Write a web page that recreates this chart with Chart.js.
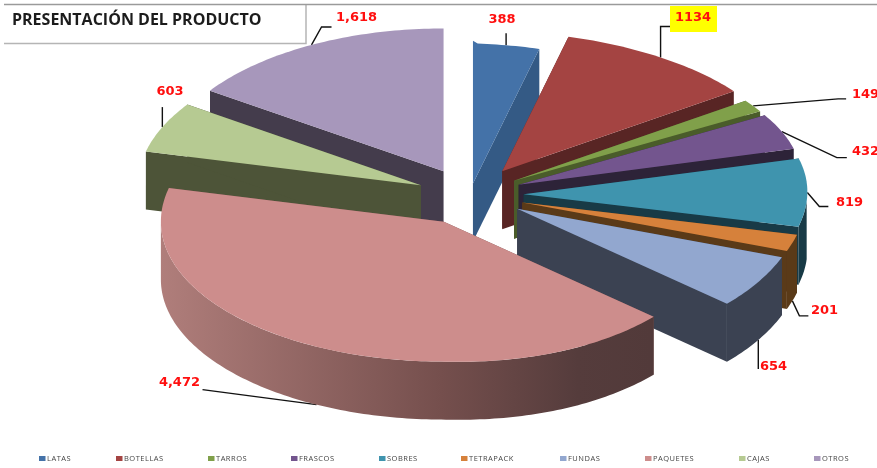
<!DOCTYPE html>
<html>
<head>
<meta charset="utf-8">
<title>Presentación del producto</title>
<script src="https://cdn.jsdelivr.net/npm/chart.js@4"></script>
<style>
  html, body { margin: 0; padding: 0; background: #fff; }
  canvas { display: block; filter: blur(0.4px); }
</style>
</head>
<body>
<canvas id="pie" width="877" height="468"></canvas>
<script>
const categories = ['LATAS', 'BOTELLAS', 'TARROS', 'FRASCOS', 'SOBRES', 'TETRAPACK', 'FUNDAS', 'PAQUETES', 'CAJAS', 'OTROS'];
const values = [388, 1134, 149, 432, 819, 201, 654, 4472, 603, 1618];
const valueLabels = ['388', '1134', '149', '432', '819', '201', '654', '4,472', '603', '1,618'];

const topColors = ['#4472a8', '#a44442', '#80a04a', '#73558e', '#3f94ae', '#d6813b', '#92a7cf', '#cd8d8c', '#b6ca92', '#a797bb'];
const sideColors = ['#345a85', '#582524', '#4a5c2a', '#2d2338', '#183a46', '#5a3a18', '#3b4252', '#754f4d', '#4d5438', '#443c4c'];
const explode = [0.09, 0.21, 0.19, 0.19, 0.19, 0.19, 0.19, 0.205, 0.19, 0.2];
// back to front, so nearer slices cover the ones behind them
const paintOrder = [0, 9, 8, 1, 2, 3, 4, 5, 6, 7];

// leader line bends, relative to the point on the slice edge
const leaders = [
  [[0, -12]],
  [[0, -31], [10, -31]],
  [[85, -7], [93, -7]],
  [[55, 26], [65, 26]],
  [[12, 14], [21, 14]],
  [[7, 15], [16, 15]],
  [[0, 29]],
  [[-114, -15]],
  [[0, -20]],
  [[10, -18], [20, -18]]
];
// label anchor x, y and alignment
const labelPos = [
  [502, 20, 'center'], [693, 18, 'center'], [852, 95, 'left'], [852, 152, 'left'], [836, 203, 'left'],
  [811, 311, 'left'], [760, 367, 'left'], [200, 383, 'right'], [170, 92, 'center'], [336, 18, 'left']
];
const legendX = [39, 116, 208, 291, 379, 461, 560, 645, 739, 814];

const CX = 470, CY = 196, RX = 283, RY = 140, DEPTH = 58;

function pointOnDisc(apex, th) {
  const u = Math.sin(th), v = Math.cos(th);
  let dx = RX * u, dy = -RY * v;
  if (u > 0) { // the right side of the reference leans a little
    dx *= 1 + 0.07 * u * v;
    dy += 7 * u;
  } else if (v > 0) {
    dy *= 1.02;
  }
  return { x: apex.x + dx, y: apex.y + dy };
}

function arcPoints(apex, a, b) {
  const pts = [];
  const n = Math.max(2, Math.ceil((b - a) / (Math.PI / 180)));
  for (let i = 0; i <= n; i++) pts.push(pointOnDisc(apex, a + (b - a) * i / n));
  return pts;
}

function fillPoly(ctx, pts, color) {
  ctx.beginPath();
  pts.forEach((p, i) => i ? ctx.lineTo(p.x, p.y) : ctx.moveTo(p.x, p.y));
  ctx.closePath();
  ctx.fillStyle = color;
  ctx.fill();
}

function down(p) { return { x: p.x, y: p.y + DEPTH }; }

function sliceApex(arc, i) {
  const mid = (arc.startAngle + arc.endAngle) / 2 + Math.PI / 2;
  return {
    x: CX + explode[i] * RX * Math.sin(mid),
    y: CY - explode[i] * RY * Math.cos(mid)
  };
}

function drawSlice(ctx, arc, i) {
  const a = arc.startAngle + Math.PI / 2, b = arc.endAngle + Math.PI / 2;
  const apex = sliceApex(arc, i);
  const rim = arcPoints(apex, a, b);
  const first = rim[0], last = rim[rim.length - 1];

  // cut faces
  fillPoly(ctx, [apex, first, down(first), down(apex)], sideColors[i]);
  fillPoly(ctx, [apex, last, down(last), down(apex)], sideColors[i]);

  // outer wall, only the part turned towards the viewer
  const wa = Math.max(a, Math.PI / 2), wb = Math.min(b, Math.PI * 1.5);
  if (wb > wa) {
    const wall = arcPoints(apex, wa, wb);
    let fill = sideColors[i];
    if (categories[i] === 'PAQUETES') {
      fill = ctx.createLinearGradient(160, 0, 652, 0);
      fill.addColorStop(0, '#b07e7b');
      fill.addColorStop(0.57, '#754f4d');
      fill.addColorStop(0.85, '#553c3c');
      fill.addColorStop(1, '#523a3a');
    }
    fillPoly(ctx, wall.concat(wall.map(down).reverse()), fill);
  }

  // top face
  fillPoly(ctx, [apex].concat(rim), topColors[i]);
}

function drawLeader(ctx, arc, i) {
  const mid = (arc.startAngle + arc.endAngle) / 2 + Math.PI / 2;
  const edge = pointOnDisc(sliceApex(arc, i), mid);
  if (mid > Math.PI / 2 && mid < Math.PI * 1.5) edge.y += DEPTH;
  ctx.beginPath();
  ctx.moveTo(edge.x, edge.y);
  leaders[i].forEach(d => ctx.lineTo(edge.x + d[0], edge.y + d[1]));
  ctx.strokeStyle = '#111';
  ctx.lineWidth = 1.4;
  ctx.stroke();
}

function drawLabel(ctx, i) {
  const [x, y, align] = labelPos[i];
  ctx.font = 'bold 13px "DejaVu Sans"';
  ctx.textAlign = align;
  ctx.textBaseline = 'middle';
  if (valueLabels[i] === '1134') {
    ctx.fillStyle = '#ffff00';
    ctx.fillRect(x - 23, y - 12, 47, 26);
  }
  ctx.fillStyle = '#ff0f0f';
  ctx.fillText(valueLabels[i], x, y);
}

function drawLegend(ctx) {
  ctx.font = '7.5px "Open Sans"';
  ctx.letterSpacing = '0.5px';
  ctx.textAlign = 'left';
  ctx.textBaseline = 'middle';
  categories.forEach((name, i) => {
    ctx.fillStyle = topColors[i];
    ctx.fillRect(legendX[i], 456, 6.5, 5);
    ctx.fillStyle = '#444';
    ctx.fillText(name, legendX[i] + 8, 459);
  });
  ctx.letterSpacing = '0px';
}

const pie3d = {
  id: 'pie3d',
  beforeDraw(chart) {
    const ctx = chart.ctx;
    ctx.save();
    ctx.strokeStyle = '#b5b5b5';
    ctx.lineWidth = 1.5;
    ctx.beginPath();
    ctx.moveTo(4, 43.5); ctx.lineTo(306, 43.5); ctx.lineTo(306, 5);
    ctx.stroke();
    ctx.strokeStyle = '#9a9a9a';
    ctx.beginPath();
    ctx.moveTo(4, 4.5); ctx.lineTo(877, 4.5);
    ctx.stroke();
    ctx.font = 'bold 16px "Open Sans"';
    ctx.fillStyle = '#1c1c1c';
    ctx.textAlign = 'left';
    ctx.textBaseline = 'middle';
    ctx.fillText('PRESENTACIÓN DEL PRODUCTO', 12, 20);
    drawLegend(ctx);
    ctx.restore();
  },
  beforeDatasetsDraw(chart) {
    const ctx = chart.ctx;
    const arcs = chart.getDatasetMeta(0).data;
    ctx.save();
    paintOrder.forEach(i => drawLeader(ctx, arcs[i], i));
    paintOrder.forEach(i => drawSlice(ctx, arcs[i], i));
    paintOrder.forEach(i => drawLabel(ctx, i));
    ctx.restore();
    return false; // slices are already painted with depth
  }
};

new Chart(document.getElementById('pie'), {
  type: 'pie',
  data: {
    labels: categories,
    datasets: [{ data: values, backgroundColor: topColors, borderWidth: 0 }]
  },
  options: {
    responsive: false,
    animation: false,
    events: [],
    plugins: {
      tooltip: { enabled: false },
      legend: { display: false }
    }
  },
  plugins: [pie3d]
});
</script>
</body>
</html>
